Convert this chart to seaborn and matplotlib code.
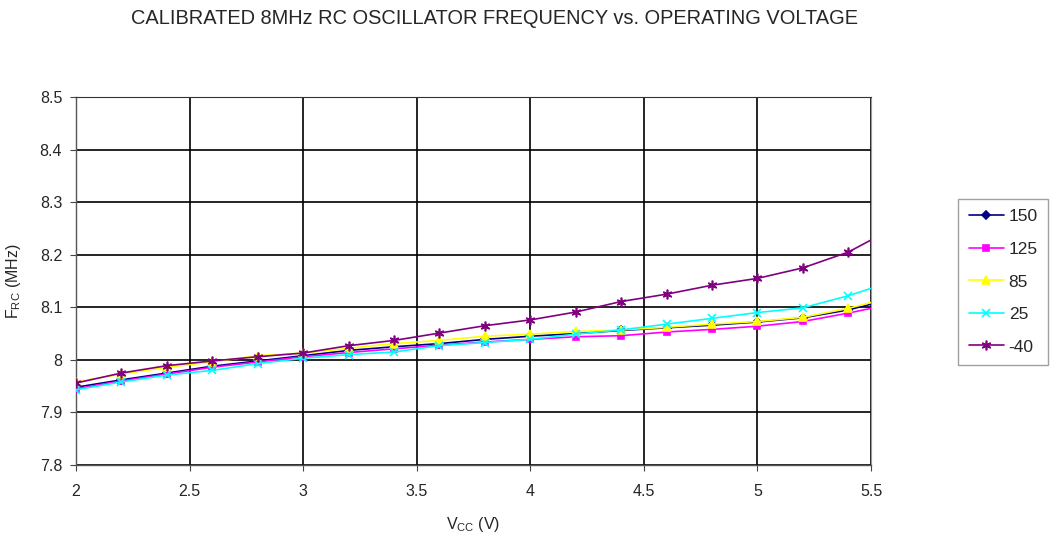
import pandas as pd
import matplotlib.pyplot as plt
from matplotlib.lines import Line2D
import seaborn as sns

# Supply voltage (V)
vcc = [2.0, 2.2, 2.4, 2.6, 2.8, 3.0, 3.2, 3.4, 3.6, 3.8,
       4.0, 4.2, 4.4, 4.6, 4.8, 5.0, 5.2, 5.4, 5.5]

# Frequency (MHz) per temperature
f_150 = [7.948, 7.962, 7.975, 7.988, 7.998, 8.008, 8.018, 8.025, 8.031, 8.039,
         8.045, 8.050, 8.056, 8.061, 8.066, 8.072, 8.080, 8.095, 8.106]
f_125 = [7.945, 7.960, 7.973, 7.986, 7.996, 8.006, 8.014, 8.021, 8.028, 8.034,
         8.039, 8.044, 8.046, 8.053, 8.058, 8.064, 8.073, 8.089, 8.098]
f_85 = [7.958, 7.973, 7.986, 7.996, 8.008, 8.013, 8.022, 8.031, 8.037, 8.045,
        8.049, 8.054, 8.057, 8.062, 8.068, 8.073, 8.081, 8.098, 8.109]
f_25 = [7.943, 7.958, 7.971, 7.980, 7.993, 8.003, 8.010, 8.015, 8.027, 8.033,
        8.039, 8.049, 8.057, 8.068, 8.079, 8.090, 8.099, 8.122, 8.136]
f_m40 = [7.956, 7.975, 7.989, 7.998, 8.006, 8.013, 8.027, 8.037, 8.051, 8.065,
         8.076, 8.091, 8.111, 8.125, 8.142, 8.155, 8.175, 8.205, 8.228]

temps = ['150', '125', '85', '25', '-40']
series = [f_150, f_125, f_85, f_25, f_m40]

frames = []
for t, vals in zip(temps, series):
    frames.append(pd.DataFrame({'Vcc': vcc, 'F': vals, 'Temp': t}))
df = pd.concat(frames, ignore_index=True)

palette = {'150': '#000080', '125': '#ff00ff', '85': '#ffff00',
           '25': '#00ffff', '-40': '#800080'}
markers = {'150': 'D', '125': 's', '85': '^', '25': 'x', '-40': (6, 2, 0)}
msizes = {'150': 4, '125': 4.5, '85': 5.5, '25': 5.5, '-40': 7}

sns.set_style('white')
plt.rcParams['font.family'] = ['Liberation Sans', 'DejaVu Sans']
plt.rcParams['mathtext.fontset'] = 'custom'
plt.rcParams['mathtext.rm'] = 'Liberation Sans'

fig = plt.figure(figsize=(10.59, 5.37), dpi=100)
ax = fig.add_axes([0.0718, 0.134, 0.7507, 0.6854])

# no marker drawn on the final 5.5 V end point
mark_idx = list(range(len(vcc) - 1))

handles = []
for t in temps:
    sub = df[df['Temp'] == t]
    sns.lineplot(data=sub, x='Vcc', y='F', color=palette[t],
                 marker=markers[t], markersize=msizes[t], markeredgewidth=1.2,
                 markeredgecolor=palette[t], markevery=mark_idx,
                 linewidth=1.2, ax=ax, zorder=3, legend=False)
    handles.append(Line2D([], [], color=palette[t], marker=markers[t],
                          markersize=msizes[t], markeredgewidth=1.2,
                          linewidth=1.2, label=t))

ax.set_xlim(2, 5.5)
ax.set_ylim(7.8, 8.5)
ax.set_xticks([2, 2.5, 3, 3.5, 4, 4.5, 5, 5.5])
ax.set_xticklabels(['2', '2.5', '3', '3.5', '4', '4.5', '5', '5.5'])
ax.set_yticks([7.8, 7.9, 8.0, 8.1, 8.2, 8.3, 8.4, 8.5])
ax.set_yticklabels(['7.8', '7.9', '8', '8.1', '8.2', '8.3', '8.4', '8.5'])
ax.grid(True, color='black', linewidth=1.2)
ax.set_axisbelow(True)
ax.tick_params(axis='y', labelsize=11.5, length=4, color='#444444',
               direction='out', left=True, pad=6)
ax.tick_params(axis='x', labelsize=11.5, length=4, color='#444444',
               direction='out', bottom=True, pad=10)

for side in ['left', 'bottom']:
    ax.spines[side].set_color('#555555')
    ax.spines[side].set_linewidth(1.0)
ax.spines['top'].set_color('#333333')
ax.spines['right'].set_color('#999999')

ax.set_xlabel(r'V$_{\mathrm{CC}}$ (V)', fontsize=11.5, labelpad=11)
ax.set_ylabel(r'F$_{\mathrm{RC}}$ (MHz)', fontsize=11.5, labelpad=12)

fig.text(0.467, 0.966, 'CALIBRATED 8MHz RC OSCILLATOR FREQUENCY vs. OPERATING VOLTAGE',
         ha='center', va='center', fontsize=14.4)

# legend
leg = fig.legend(handles=handles, loc='center left',
                 bbox_to_anchor=(0.905, 0.475), fontsize=12.5, frameon=True,
                 fancybox=False, edgecolor='#888888', handlelength=2.0,
                 labelspacing=1.0, borderpad=0.6, handletextpad=0.3,
                 borderaxespad=0)
leg.get_frame().set_linewidth(1.0)

plt.savefig('out.png', dpi=100)
plt.close()
